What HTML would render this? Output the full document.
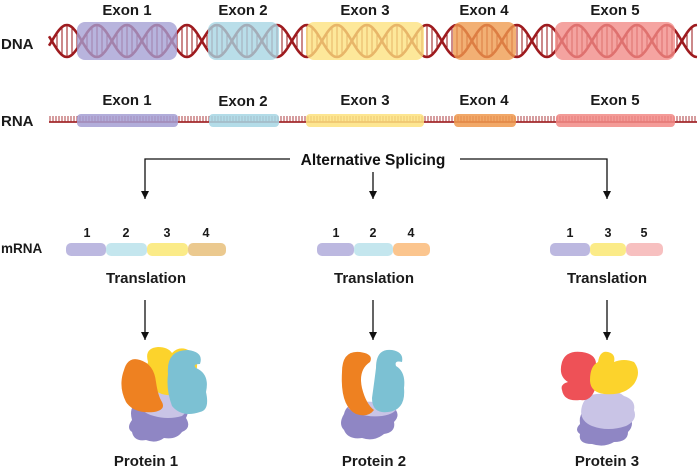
<!DOCTYPE html>
<html><head><meta charset="utf-8"><style>
body{margin:0;background:#fff;}
svg{display:block;font-family:"Liberation Sans",Arial,sans-serif;font-weight:bold;}
</style></head><body>
<svg id="s" width="700" height="470" viewBox="0 0 700 470" xmlns="http://www.w3.org/2000/svg">
<defs><marker id="ar" markerWidth="9" markerHeight="9" refX="8" refY="4" orient="auto" markerUnits="userSpaceOnUse"><path d="M0,0 L8,4 L0,8 Z" fill="#111"/></marker></defs>
<g id="helix"></g>
<g opacity="0.78">
<rect x="77" y="22" width="100" height="38" rx="8" fill="#a49fd4"/>
<rect x="208" y="22" width="71" height="38" rx="8" fill="#a6d6e4"/>
<rect x="306" y="22" width="118" height="38" rx="8" fill="#fde27e"/>
<rect x="453" y="22" width="63" height="38" rx="8" fill="#ef9a4e"/>
<rect x="555" y="22" width="120" height="38" rx="8" fill="#f28a86"/>
</g>
<g font-size="15" fill="#1a1a1a" text-anchor="middle">
<text x="127" y="15">Exon 1</text><text x="243" y="15">Exon 2</text><text x="365" y="15">Exon 3</text><text x="484" y="15">Exon 4</text><text x="615" y="15">Exon 5</text>
<text x="127" y="105">Exon 1</text><text x="243" y="106">Exon 2</text><text x="365" y="105">Exon 3</text><text x="484" y="105">Exon 4</text><text x="615" y="105">Exon 5</text>
</g>
<text x="1" y="49" font-size="15" fill="#1a1a1a">DNA</text>
<text x="1" y="126" font-size="15" fill="#1a1a1a">RNA</text>
<g id="rna"></g>
<g opacity="0.85">
<rect x="77" y="114" width="101" height="13" rx="4" fill="#a49fd4"/>
<rect x="209" y="114" width="70" height="13" rx="4" fill="#a6d6e4"/>
<rect x="306" y="114" width="118" height="13" rx="4" fill="#fde27e"/>
<rect x="454" y="114" width="62" height="13" rx="4" fill="#ef9a4e"/>
<rect x="556" y="114" width="119" height="13" rx="4" fill="#f28a86"/>
</g>
<text x="373" y="165" font-size="15.5" fill="#111" text-anchor="middle">Alternative Splicing</text>
<g stroke="#111" stroke-width="1.3" fill="none">
<path d="M290 159 H145 V199" marker-end="url(#ar)"/>
<path d="M460 159 H607 V199" marker-end="url(#ar)"/>
<path d="M373 172 V199" marker-end="url(#ar)"/>
<path d="M145 300 V340" marker-end="url(#ar)"/>
<path d="M373 300 V340" marker-end="url(#ar)"/>
<path d="M607 300 V340" marker-end="url(#ar)"/>
</g>
<text x="1" y="253" font-size="13.5" fill="#1a1a1a">mRNA</text>
<g>
<rect x="66" y="243" width="40" height="13" rx="5" fill="#bcb8e0"/><rect x="106" y="243" width="41" height="13" rx="5" fill="#c4e6ee"/><rect x="147" y="243" width="41" height="13" rx="5" fill="#fbeb88"/><rect x="188" y="243" width="38" height="13" rx="5" fill="#ebc98f"/>
<rect x="317" y="243" width="37" height="13" rx="5" fill="#bcb8e0"/><rect x="354" y="243" width="39" height="13" rx="5" fill="#c4e6ee"/><rect x="393" y="243" width="37" height="13" rx="5" fill="#fbc58e"/>
<rect x="550" y="243" width="40" height="13" rx="5" fill="#bcb8e0"/><rect x="590" y="243" width="36" height="13" rx="5" fill="#fbeb88"/><rect x="626" y="243" width="37" height="13" rx="5" fill="#f7c0c0"/>
</g>
<g font-size="12.5" fill="#1a1a1a" text-anchor="middle">
<text x="87" y="237">1</text><text x="126" y="237">2</text><text x="167" y="237">3</text><text x="206" y="237">4</text>
<text x="336" y="237">1</text><text x="373" y="237">2</text><text x="411" y="237">4</text>
<text x="570" y="237">1</text><text x="608" y="237">3</text><text x="644" y="237">5</text>
</g>
<g font-size="15" fill="#1a1a1a" text-anchor="middle">
<text x="146" y="283">Translation</text><text x="374" y="283">Translation</text><text x="607" y="283">Translation</text>
<text x="146" y="466">Protein 1</text><text x="374" y="466">Protein 2</text><text x="607" y="466">Protein 3</text>
</g>
<!-- Protein 1 -->
<g>
<path d="M132 420 q-4 -14 8 -20 q20 -8 40 0 q12 6 6 18 q6 10 -4 14 q-6 8 -18 6 q-8 6 -18 2 q-12 2 -14 -8 q-6 -4 0 -12z" fill="#8f86c4"/>
<path d="M140 400 q2 -14 18 -14 q22 -4 30 8 q6 12 -6 22 q-14 4 -28 0 q-16 -4 -14 -16z" fill="#c9c4e6"/>
<path d="M148 362 q-4 -14 10 -15 q10 0 14 6 q8 -8 18 -2 q10 6 6 22 q-4 20 -20 22 q-18 2 -26 -10 q-6 -12 -2 -23z" fill="#fcd32c"/>
<path d="M168 374 q-2 -24 20 -24 q16 2 12 14 q-8 0 -4 4 q14 6 10 24 q4 18 -6 20 q-18 6 -28 -6 q-6 -16 -4 -32z" fill="#7cc1d3"/>
<path d="M124 370 q4 -14 16 -10 q14 4 16 22 q2 14 6 20 q4 8 -8 10 q-20 2 -28 -10 q-8 -16 -2 -32z" fill="#ee8121"/>
</g>
<!-- Protein 2 -->
<g>
<path d="M344 414 q2 -10 14 -10 q16 -4 34 2 q10 8 2 16 q2 10 -10 12 q-10 8 -22 4 q-14 2 -18 -8 q-6 -6 0 -16z" fill="#8f86c4"/>
<path d="M348 408 q10 -8 26 -6 q16 -2 24 4 q-2 8 -16 10 q-22 2 -34 -8z" fill="#c9c4e6"/>
<path d="M376 368 q0 -20 16 -18 q12 2 10 12 q-8 -2 -6 4 q10 6 8 22 q2 22 -16 24 q-16 2 -16 -14 q2 -14 4 -30z" fill="#7cc1d3"/>
<path d="M342 372 q0 -22 18 -20 q14 2 10 10 q-12 8 -8 26 q4 16 12 22 q-6 8 -18 4 q-16 -8 -14 -42z" fill="#ee8121"/>
</g>
<!-- Protein 3 -->
<g>
<path d="M580 424 q-2 -14 12 -16 q22 -6 36 6 q8 10 0 18 q0 10 -14 10 q-10 6 -22 2 q-14 0 -12 -10 q-6 -4 0 -10z" fill="#8f86c4"/>
<path d="M582 406 q4 -14 22 -12 q10 -6 20 2 q12 4 10 14 q4 10 -8 16 q-18 6 -34 0 q-14 -6 -10 -20z" fill="#c9c4e6"/>
<path d="M562 362 q4 -12 20 -10 q14 2 14 12 q-4 10 0 22 q-4 16 -16 14 q-16 2 -18 -10 q-2 -6 6 -8 q-10 -6 -6 -20z" fill="#ee5157"/>
<path d="M598 362 q2 -12 10 -10 q8 2 6 10 q10 -4 20 0 q8 10 0 22 q-10 12 -30 10 q-14 -2 -14 -14 q0 -14 8 -18z" fill="#fcd32c"/>
</g>
</svg>
<script>
(function(){
var ns="http://www.w3.org/2000/svg",h=document.getElementById('helix'),r=document.getElementById('rna');
function el(p,t,a){var e=document.createElementNS(ns,t);for(var k in a)e.setAttribute(k,a[k]);p.appendChild(e);return e;}
var x0=49,x1=697,cy=41,A=16,P=60,ph=-0.3;
for(var x=x0+3;x<x1;x+=5){var y1=cy+A*Math.sin((x-x0)/P*2*Math.PI+ph),y2=cy-A*Math.sin((x-x0)/P*2*Math.PI+ph);
el(h,'line',{x1:x,x2:x,y1:y1,y2:y2,stroke:'#a3282b','stroke-width':1.1});}
var d1='',d2='';
for(var x=x0;x<=x1;x+=1){var s=Math.sin((x-x0)/P*2*Math.PI+ph);d1+=(x==x0?'M':'L')+x+' '+(cy+A*s).toFixed(1);d2+=(x==x0?'M':'L')+x+' '+(cy-A*s).toFixed(1);}
el(h,'path',{d:d1,stroke:'#9e1b1f','stroke-width':2.6,fill:'none'});
el(h,'path',{d:d2,stroke:'#9e1b1f','stroke-width':2.6,fill:'none'});
el(r,'line',{x1:49,x2:697,y1:122,y2:122,stroke:'#a3282b','stroke-width':1.8});
for(var x=50;x<697;x+=3)el(r,'line',{x1:x,x2:x,y1:116,y2:122,stroke:'#a3282b','stroke-width':0.9});
})();
</script>
</body></html>
